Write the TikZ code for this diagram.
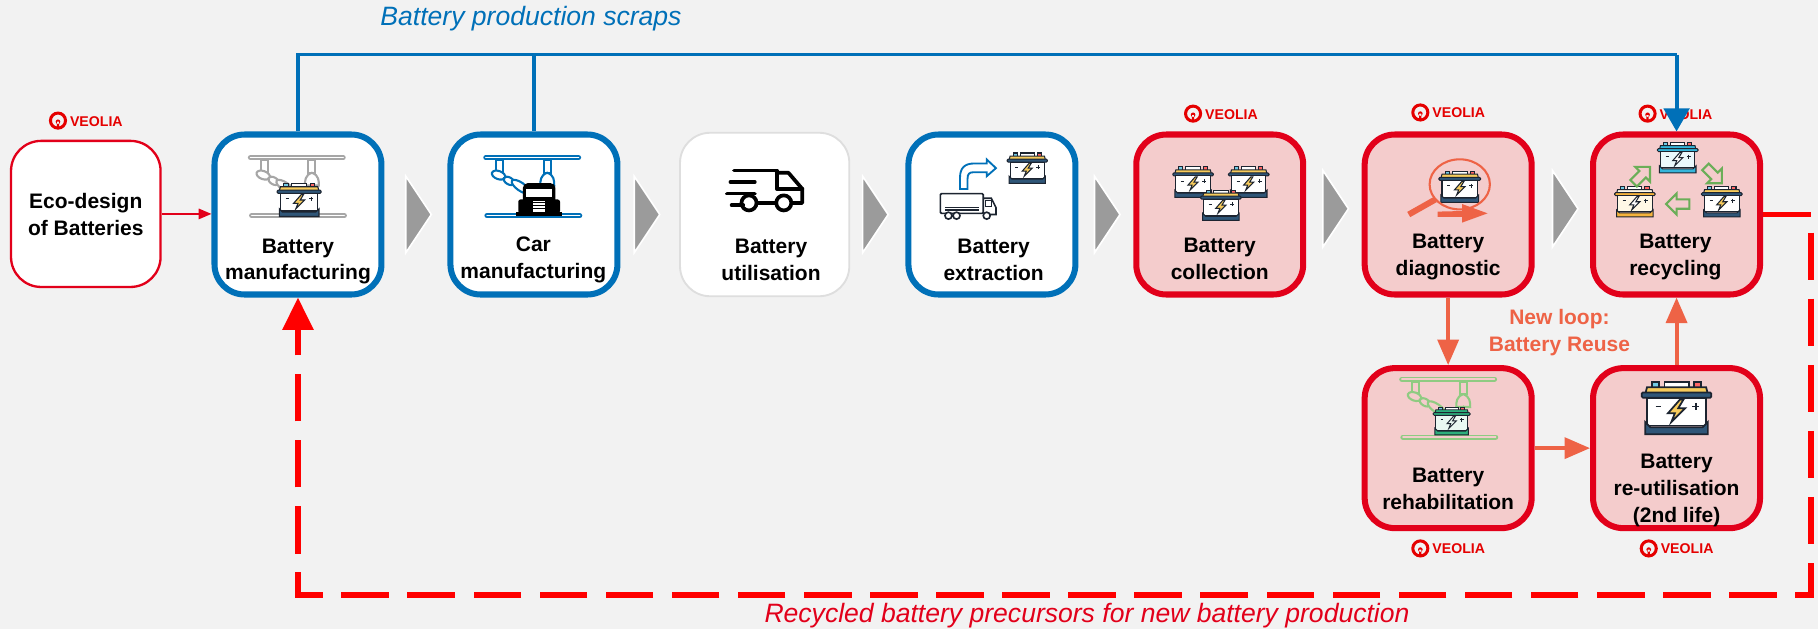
\documentclass[tikz,border=0pt]{standalone}
\usepackage{fontspec}
\setmainfont{Liberation Sans}
\usetikzlibrary{arrows.meta,calc}
\definecolor{bgc}{HTML}{F2F2F2}
\definecolor{vred}{HTML}{E2001A}
\definecolor{pink}{HTML}{F4CCCC}
\definecolor{vblue}{HTML}{0070B8}
\definecolor{vorange}{HTML}{EE6346}
\definecolor{chev}{HTML}{9B9B9B}
\definecolor{ink}{HTML}{1C2430}
\definecolor{navy}{HTML}{2F5678}
\definecolor{lidy}{HTML}{F7CB5C}
\definecolor{vgreen}{HTML}{8FCB82}
\definecolor{dgreen}{HTML}{2DAE7C}
\definecolor{mint}{HTML}{EAF8F2}
\definecolor{agreen}{HTML}{6BAE58}
\definecolor{sky}{HTML}{35B5DA}
\definecolor{icew}{HTML}{EAF8FC}
\definecolor{cream}{HTML}{FFF8E6}
\definecolor{gold}{HTML}{F5B33C}
\tikzset{
  x=0.5pt,y=-0.5pt,
  boxbase/.style={rectangle,rounded corners=13pt,minimum width=72pt,minimum height=69pt,inner sep=0pt},
  blubox/.style={boxbase,draw=vblue,line width=2.6pt,fill=white},
  redbox/.style={boxbase,draw=vred,line width=2.6pt,fill=pink},
  greybox/.style={boxbase,draw=black!13,line width=0.8pt,fill=white,minimum width=73pt,minimum height=70.5pt},
  ecobox/.style={boxbase,draw=vred,line width=1pt,fill=white,minimum width=64.5pt,minimum height=63pt},
  lbl/.style={font=\fontsize{9.05}{11.6}\selectfont\bfseries,align=center,text=black,inner sep=0pt},
  veotext/.style={font=\fontsize{6.1}{6.1}\selectfont\bfseries,text=red!90!black,inner sep=0pt,anchor=west},
  chevstyle/.style={fill=chev,draw=white,line width=0.7pt,line join=miter},
  blueline/.style={draw=vblue,line width=1.7pt},
  orangeline/.style={draw=vorange,line width=1.7pt,-{Triangle[length=11pt,width=9pt]}},
  reddash/.style={draw=red,line width=2.45pt,dash pattern=on 20.5pt off 8pt,-{Triangle[length=14pt,width=13pt]}},
  caption/.style={font=\fontsize{11.45}{13}\selectfont\itshape,inner sep=0pt},
}
% battery: x,y,scale,lid,base,bolt,body
\newcommand{\batt}[7]{%
\begin{scope}[shift={(#1,#2)},scale=#3,line width={0.5pt*#3},draw=ink]
  \filldraw[fill=sky!70] (-14,-11) rectangle (-10,-15);
  \filldraw[fill=red!60] (10,-11) rectangle (14,-15);
  \filldraw[fill=white] (-7,-11) rectangle (7,-15);
  \filldraw[fill=#4] (-18,-8) -- (-17,-12) -- (17,-12) -- (18,-8) -- cycle;
  \filldraw[fill=#5,rounded corners=0.5pt] (-20,-9) rectangle (20,-6);
  \filldraw[fill=#7] (-17,-6) rectangle (17,10);
  \filldraw[fill=#5] (-18,15) -- (-18,8) -- (-15,11) -- (15,11) -- (18,8) -- (18,15) -- cycle;
  \filldraw[fill=#6] (2,-5) -- (-5,3) -- (-1,3) -- (-3,8) -- (5,0) -- (1,0) -- (4,-5) -- cycle;
  \draw (-12,-1) -- (-9,-1);
  \draw (9,-1) -- (13,-1) (11,-3) -- (11,1);
\end{scope}}
% robot rig: cx, top, colour, fill
\newcommand{\rig}[4]{%
\begin{scope}[shift={(#1,#2)},line cap=round]
  \draw[#3,line width=0.8pt,double=#4,double distance=0.6pt] (-41,0) -- (39,0);
  \draw[#3,line width=0.8pt,double=#4,double distance=0.6pt] (-40,50) -- (40,50);
  \draw[#3,line width=1.8pt] (-5,27) -- (0,33);
  \filldraw[draw=#3,fill=#4,line width=0.9pt] (-32,2) rectangle (-26,12);
  \filldraw[draw=#3,fill=#4,line width=0.9pt,rotate around={-20:(-30,15)}] (-30,15) ellipse (6 and 3.5);
  \filldraw[draw=#3,fill=#4,line width=0.9pt,rotate around={-30:(-21,20)}] (-21,20) ellipse (5 and 3);
  \filldraw[draw=#3,fill=#4,line width=0.9pt,rotate around={-35:(-11,25)}] (-11,25) ellipse (9 and 3.5);
  \filldraw[draw=#3,fill=#4,line width=0.9pt] (9,2) rectangle (15,13);
  \filldraw[draw=#3,fill=#4,line width=0.9pt] (12,13) .. controls (6,15) and (6,20) .. (6,24) -- (18,24) .. controls (18,20) and (18,15) .. (12,13) -- cycle;
  \draw[#3,line width=1.4pt] (12,24) -- (12,30);
\end{scope}}
% veolia logo: name,x,y
\newcommand{\veolia}[3]{%
  \draw[red!90!black,line width=1.3pt] (#2-24,#3) circle (6.5);
  \fill[red!90!black] (#2-24,#3+1) circle (2) (#2-25,#3+1) rectangle (#2-23,#3+6);
  \node[veotext] (#1) at (#2-14,#3+0.5) {VEOLIA};}
\newcommand{\chevron}[2]{%
  \filldraw[chevstyle] (#1,#2-33) -- (#1+22,#2) -- (#1,#2+33) -- cycle;}
\newcommand{\recarrow}[3]{%
\begin{scope}[shift={(#1,#2)},rotate=#3]
  \draw[agreen,line width=0.9pt,line join=miter,fill=none] (-10,0) -- (-1,-9) -- (-1,-4) -- (10,-4) -- (10,4) -- (-1,4) -- (-1,9) -- cycle;
\end{scope}}
\begin{document}
\begin{tikzpicture}
\useasboundingbox (0,0) rectangle (1568,542.5);
\fill[bgc] (0,0) rectangle (1568,542.5);

% boxes
\node[ecobox] (eco) at (74,184.5) {};
\node[blubox] (manu) at (257,185) {};
\node[blubox] (car) at (460.5,185) {};
\node[greybox] (util) at (659.5,185) {};
\node[blubox] (extr) at (855.5,185) {};
\node[redbox] (coll) at (1052,185) {};
\node[redbox] (diag) at (1249,185) {};
\node[redbox] (recy) at (1446,185) {};
\node[redbox] (reha) at (1249,386.5) {};
\node[redbox] (reut) at (1446,386.5) {};

% chevrons
\chevron{350}{185}
\chevron{547}{185}
\chevron{744}{185}
\chevron{944}{185}
\chevron{1141}{180}
\chevron{1339}{180}

% labels
\node[lbl] (ecoT) at (74,185) {Eco-design\\of Batteries};
\node[lbl] (manuT) at (257,225.5) {Battery\\manufacturing};
\node[lbl] (carT) at (460,224.5) {Car\\manufacturing};
\node[lbl] (utilT) at (665,224.5) {Battery\\utilisation};
\node[lbl] (extrT) at (857,224.5) {Battery\\extraction};
\node[lbl] (collT) at (1052,223.5) {Battery\\collection};
\node[lbl] (diagT) at (1249,221.5) {Battery\\diagnostic};
\node[lbl] (recyT) at (1445,222) {Battery\\recycling};
\node[lbl] (rehaT) at (1249,421.5) {Battery\\rehabilitation};
\node[lbl] (reutT) at (1446,423) {Battery\\re-utilisation\\(2nd life)};
\node[lbl,text=vorange] (loopT) at (1345,287) {New loop:\\Battery Reuse};
\node[caption,text=vblue] (scrapT) at (458,16) {Battery production scraps};
\node[caption,text=vred] (recT) at (937.5,531) {Recycled battery precursors for new battery production};

% logos
\veolia{v1}{74}{104}
\veolia{v2}{1053}{98}
\veolia{v3}{1249}{97}
\veolia{v4}{1445}{98}
\veolia{v5}{1249}{473}
\veolia{v6}{1446}{473}

% manufacturing icon
\rig{257}{136}{black!35}{white}
\batt{258}{172.5}{0.95}{lidy}{navy}{lidy}{white}

% car manufacturing icon
\rig{460}{136}{vblue}{white}
\fill[black,rounded corners=2pt] (451,158) rectangle (479,180);
\fill[black,rounded corners=1pt] (447,172) rectangle (483,184);
\fill[white] (454,163) rectangle (476,170);
\fill[white] (460,173) rectangle (470,183);
\draw[black,line width=0.4pt] (460,175) -- (470,175) (460,177.5) -- (470,177.5) (460,180) -- (470,180);
\fill[black] (445,183) rectangle (485,186);

% delivery truck icon
\begin{scope}[line width=1.6pt,line cap=round,line join=round,draw=black]
  \draw (633,147) -- (670,147) -- (670,163) -- (692,163);
  \draw (670,149) -- (680,149) -- (692,163) -- (692,175) -- (684,175);
  \draw (654,175) -- (668,175);
  \draw (630,157) -- (651,157);
  \draw (627,167) -- (651,167);
  \draw (631,177) -- (641,177);
  \draw (646,175) circle (6.5);
  \draw (676,175) circle (6.5);
\end{scope}

% extraction icon
\filldraw[draw=vblue,fill=white,line width=0.8pt,line join=miter] (828,163) -- (828,153) .. controls (828,145) and (832,141) .. (840,141) -- (851,141) -- (851,137.5) -- (859,145) -- (851,152) -- (851,148.5) -- (840,148.5) .. controls (836,148.5) and (834.5,150) .. (834.5,154) -- (834.5,163) -- cycle;
\batt{886}{145}{0.87}{lidy}{navy}{lidy}{white}
\begin{scope}[draw=ink,line width=0.7pt]
  \draw[rounded corners=0.5pt] (811,167) rectangle (848,184);
  \draw (815,179) -- (844,179) (815,181) -- (844,181);
  \draw (848,171) -- (855,171) -- (859,179) -- (859,185) -- (848,185);
  \draw (850,173) rectangle (855,178);
  \filldraw[fill=white] (818,186) circle (3) (825,186) circle (3) (851,186) circle (3);
\end{scope}

% collection icon
\batt{1029}{157}{0.875}{lidy}{navy}{lidy}{white}
\batt{1077}{157}{0.875}{lidy}{navy}{lidy}{white}
\batt{1053}{177}{0.875}{lidy}{navy}{lidy}{white}

% diagnostic icon
\batt{1259}{161}{0.9}{lidy}{navy}{lidy}{white}
\draw[vorange,line width=0.9pt] (1259,159) ellipse (26 and 21.6);
\draw[vorange,line width=2.6pt] (1238,172) -- (1215,185);
\fill[vorange] (1240,182.5) -- (1261,182) -- (1261,176) -- (1283,184) -- (1261,192) -- (1261,187) -- (1240,187) -- cycle;

% recycling icon
\batt{1447}{136}{0.875}{sky}{sky}{white}{icew}
\batt{1410}{174}{0.875}{cream}{gold}{white}{cream}
\batt{1485}{174}{0.875}{lidy}{navy}{lidy}{white}
\recarrow{1416}{151}{-135}
\recarrow{1478}{151}{135}
\recarrow{1447}{176}{0}

% rehabilitation icon
\rig{1250}{327}{vgreen}{pink}
\batt{1252}{363}{0.8}{dgreen}{dgreen}{mint}{mint}

% re-utilisation icon
\batt{1446}{352}{1.5}{lidy}{navy}{lidy}{white}

% connectors
\coordinate (scrapA) at (257,47);
\coordinate (scrapB) at (460.5,47);
\coordinate (scrapC) at (1446,47);
\draw[blueline] (manu.north) -- (scrapA) -- (scrapC);
\draw[blueline] (car.north) -- (scrapB);
\draw[blueline,-{Triangle[length=10pt,width=11pt]}] (scrapC) -- (recy.north);
\draw[vred,line width=0.6pt,-{Triangle[length=5.5pt,width=4.5pt]}] (eco.east) -- (manu.west |- eco.east);
\draw[orangeline] (diag.south) -- (reha.north);
\draw[orangeline] (reha.east) -- (reut.west);
\draw[orangeline] (reut.north) -- (recy.south);
\coordinate (retA) at (1562,185);
\coordinate (retB) at (1562,513);
\coordinate (retC) at (257,513);
\draw[reddash] (recy.east) -- (retA) -- (retB) -- (retC) -- (manu.south);
\end{tikzpicture}
\end{document}
